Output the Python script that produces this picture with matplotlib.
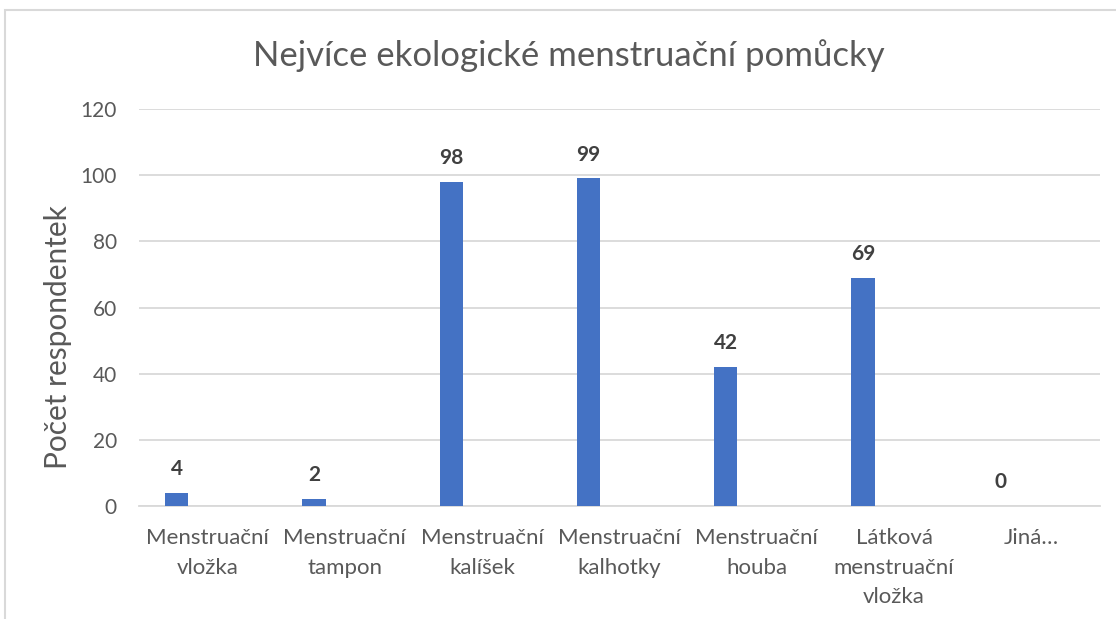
import matplotlib
matplotlib.use("Agg")
import matplotlib.pyplot as plt
from matplotlib.patches import Rectangle

categories = ["Menstruační\nvložka", "Menstruační\ntampon", "Menstruační\nkalíšek",
              "Menstruační\nkalhotky", "Menstruační\nhouba", "Látková\nmenstruační\nvložka", "Jiná…"]
values = [4, 2, 98, 99, 42, 69, 0]
yticks = [0, 20, 40, 60, 80, 100, 120]
title = "Nejvíce ekologické menstruační pomůcky"
ylabel = "Počet respondentek"

plt.rcParams['font.family'] = ['Lato', 'DejaVu Sans']

fig = plt.figure(figsize=(11.16, 6.19), dpi=100)
ax = fig.add_axes([139/1116, 1 - 506/619, (1100 - 139)/1116, (506 - 109)/619])

x = list(range(len(categories)))
offset = -0.226
bx = [i + offset for i in x]
ax.bar(bx, values, width=0.17, color="#4472C4", zorder=3)
for xi, v in zip(bx, values):
    ax.annotate(str(v), (xi, v), xytext=(0, 10), textcoords="offset points",
                ha="center", va="bottom", fontsize=15, fontweight="bold", color="#404040")

ax.set_xlim(-0.5, len(categories) - 0.5)
ax.set_ylim(0, 120)
ax.set_yticks(yticks)
ax.set_xticks(x)
ax.set_xticklabels(categories, fontsize=16, color="#595959", linespacing=1.6)
ax.tick_params(axis="y", labelsize=15, labelcolor="#595959", length=0, pad=16)
ax.tick_params(axis="x", length=0, pad=16)
ax.grid(axis="y", color="#d9d9d9", linewidth=1.3, zorder=0)
for s in ["top", "right", "left"]:
    ax.spines[s].set_visible(False)
ax.spines["bottom"].set_color("#d9d9d9")
ax.spines["bottom"].set_linewidth(1.3)
ax.set_ylabel(ylabel, fontsize=21.5, color="#595959")
ax.yaxis.set_label_coords(-0.070, 0.426)

fig.text(569/1116, 1 - 56/619, title, ha="center", va="center", fontsize=25, color="#595959")

fig.patches.append(Rectangle((5/1116, -0.1), 1.2, 1 - 10/619 + 0.1, transform=fig.transFigure,
                             fill=False, edgecolor="#d9d9d9", linewidth=1.5))

fig.savefig("out.png", dpi=100)
